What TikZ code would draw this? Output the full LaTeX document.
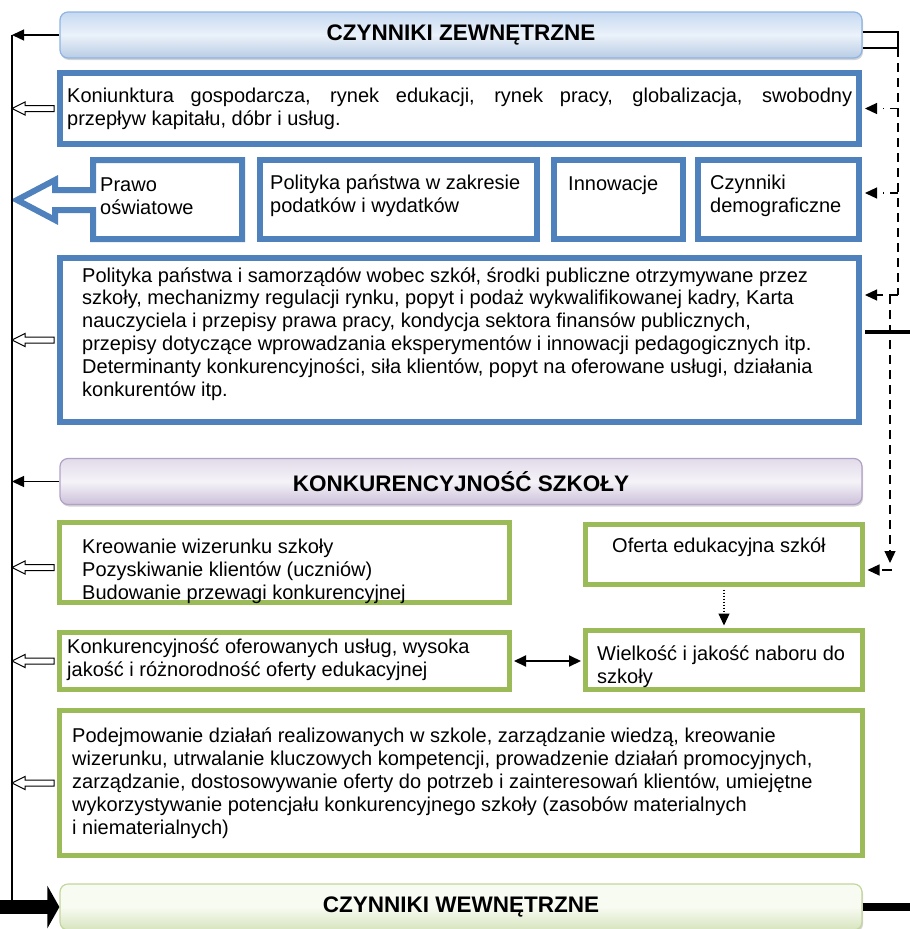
\documentclass[tikz,border=0pt]{standalone}
\usepackage{fontspec}
\setmainfont{Liberation Sans}
\usetikzlibrary{arrows.meta,calc,shadows}
\definecolor{boxblue}{RGB}{79,129,189}
\definecolor{boxgreen}{RGB}{155,187,89}
\definecolor{hzline}{RGB}{141,180,226}
\definecolor{hztop}{RGB}{198,217,241}
\definecolor{hzbot}{RGB}{184,204,228}
\definecolor{hkline}{RGB}{178,161,199}
\definecolor{hktop}{RGB}{226,220,234}
\definecolor{hkbot}{RGB}{204,192,218}
\definecolor{hwline}{RGB}{195,214,155}
\definecolor{hwtop}{RGB}{248,251,242}
\definecolor{hwbot}{RGB}{215,228,189}
\begin{document}
\begin{tikzpicture}[x=1pt,y=-1pt,
    bluebox/.style={draw=boxblue,line width=6pt,fill=white,inner sep=0pt},
    greenbox/.style={draw=boxgreen,line width=5pt,fill=white,inner sep=0pt},
    head/.style={rounded corners=8pt,line width=1.2pt,inner sep=0pt,minimum width=802pt,minimum height=46pt,
        font=\fontsize{22.5}{27}\selectfont\bfseries,
        drop shadow={shadow xshift=1pt,shadow yshift=-2pt,opacity=.35}},
    txt/.style={anchor=west,align=left,inner sep=0pt,font=\fontsize{20}{22.9}\selectfont},
    tip/.style={-{Triangle[length=12pt,width=11pt]}},
    dashdot/.style={line width=1.2pt,dash pattern=on 8pt off 6pt on 1.5pt off 6pt},
    longdash/.style={line width=1.2pt,dash pattern=on 9pt off 6pt},
    hollow/.style={draw=black,fill=white,line width=1pt,
        to path={let \p1=(\tikztostart),\p2=(\tikztotarget) in
            (\x1-3pt,\y1+3pt) -- (\x2+13pt,\y1+3pt) -- (\x2+13pt,\y1+6.5pt) -- (\x2,\y1)
            -- (\x2+13pt,\y1-6.5pt) -- (\x2+13pt,\y1-3pt) -- (\x1-3pt,\y1-3pt) -- cycle}}]
\useasboundingbox (0,0) rectangle (910,929);

\node[head,draw=hzline,top color=hztop,bottom color=hzbot,middle color=hztop!35] (hz) at (461,35) {CZYNNIKI ZEWNĘTRZNE};
\node[head,draw=hkline,top color=hktop,bottom color=hkbot,middle color=hktop!35] (hk) at (461,481.5) {KONKURENCYJNOŚĆ SZKOŁY};
\node[head,draw=hwline,top color=hwtop,bottom color=hwbot,middle color=hwtop] (hw) at (461,907) {CZYNNIKI WEWNĘTRZNE};

\node[bluebox,minimum width=799pt,minimum height=71pt] (konj) at (459.5,108.5) {};
\node[txt] (konjt) at (67,109) {\makebox[785pt][s]{Koniunktura gospodarcza, rynek edukacji, rynek pracy, globalizacja, swobodny}\\przepływ kapitału, dóbr i usług.};

\draw[draw=boxblue,line width=6pt,fill=white] (93,160) -- (242,160) -- (242,239) -- (93,239) -- (93,210)
    -- (55,210) -- (55,220) -- (17,200) -- (55,180) -- (55,190) -- (93,190) -- cycle;
\node[txt] (prawo) at (100,196) {Prawo\\oświatowe};
\node[bluebox,minimum width=277pt,minimum height=79pt] (pod) at (398.5,199.5) {};
\node[txt] (podt) at (270,196) {Polityka państwa w zakresie\\podatków i wydatków};
\node[bluebox,minimum width=129pt,minimum height=79pt] (inn) at (618.5,199.5) {};
\node[txt] (innt) at (568,185) {Innowacje};
\node[bluebox,minimum width=161pt,minimum height=79pt] (dem) at (778.5,199.5) {};
\node[txt] (demt) at (710,196) {Czynniki\\demograficzne};

\node[bluebox,minimum width=799pt,minimum height=164pt] (pol) at (459.5,340) {};
\node[txt] (polt) at (82,334) {Polityka państwa i samorządów wobec szkół, środki publiczne otrzymywane przez\\
    szkoły, mechanizmy regulacji rynku, popyt i podaż wykwalifikowanej kadry, Karta\\
    nauczyciela i przepisy prawa pracy, kondycja sektora finansów publicznych,\\
    przepisy dotyczące wprowadzania eksperymentów i innowacji pedagogicznych itp.\\
    Determinanty konkurencyjności, siła klientów, popyt na oferowane usługi, działania\\
    konkurentów itp.};

\node[greenbox,minimum width=450pt,minimum height=80pt] (kreo) at (284.5,562.5) {};
\node[txt] (kreot) at (82,571) {Kreowanie wizerunku szkoły\\Pozyskiwanie klientów (uczniów)\\Budowanie przewagi konkurencyjnej};
\node[greenbox,minimum width=277pt,minimum height=60pt] (ofer) at (724,554.5) {};
\node[txt] (ofert) at (612,547) {Oferta edukacyjna szkół};
\node[greenbox,minimum width=450pt,minimum height=57pt] (konk) at (284.5,661) {};
\node[txt] (konkt) at (67,660) {Konkurencyjność oferowanych usług, wysoka\\jakość i różnorodność oferty edukacyjnej};
\node[greenbox,minimum width=277pt,minimum height=59pt] (wiel) at (724,660) {};
\node[txt] (wielt) at (597,667) {Wielkość i jakość naboru do\\szkoły};
\node[greenbox,minimum width=803pt,minimum height=145pt] (podj) at (461,783) {};
\node[txt] (podjt) at (72,783) {Podejmowanie działań realizowanych w szkole, zarządzanie wiedzą, kreowanie\\
    wizerunku, utrwalanie kluczowych kompetencji, prowadzenie działań promocyjnych,\\
    zarządzanie, dostosowywanie oferty do potrzeb i zainteresowań klientów, umiejętne\\
    wykorzystywanie potencjału konkurencyjnego szkoły (zasobów materialnych\\
    i niematerialnych)};

\coordinate (sp) at (12,0);
\coordinate (rv) at (898,0);
\coordinate (rw) at (890,0);

\draw[line width=1.3pt] (sp |- hz.west) -- (sp |- 0,900);
\draw[line width=1.3pt,tip] (hz.west) -- (sp |- hz.west);
\draw[line width=1.3pt,tip] (hk.west) -- (sp |- hk.west);
\draw[line width=14pt,-{Triangle[length=12pt,width=42pt]}] (0,907) -- (hw.west);
\draw[hollow] (konj.west) to (sp |- konj.west);
\draw[hollow] (pol.west) to (sp |- pol.west);
\draw[hollow] ([yshift=-5pt]kreo.west) to (sp |- 0,567.5);
\draw[hollow] (konk.west) to (sp |- konk.west);
\draw[hollow] (podj.west) to (sp |- podj.west);

\draw[line width=1.2pt] (hz.east |- 0,32) -- (rv |- 0,32) -- (rv |- 0,48) -- (hz.east |- 0,48);
\draw[longdash] (rv |- 0,48) -- (rv |- 0,295);
\draw[dashdot,tip,shorten >=3pt] (rv |- konj.east) -- (konj.east);
\draw[dashdot,tip,shorten >=3pt] (rv |- 0,193) -- (dem.east |- 0,193);
\draw[longdash,tip,shorten >=3pt] (rv |- 0,295) -- (pol.east |- 0,295);
\draw[longdash,tip] (rw |- 0,295) -- (rw |- 0,563);
\draw[line width=1.2pt,dash pattern=on 10pt off 8pt,tip,shorten >=2.5pt] (892,570) -- (ofer.east |- 0,570);
\draw[line width=4.5pt,shorten <=3pt] (pol.east |- 0,332) -- (910,332);
\draw[line width=8pt] (hw.east) -- (910,907);

\draw[line width=1.2pt,dash pattern=on 1.2pt off 1.8pt,tip,shorten <=2.5pt,shorten >=2.5pt] (ofer.south) -- (wiel.north);
\draw[line width=2pt,{Triangle[length=12pt,width=11pt]}-{Triangle[length=12pt,width=11pt]},shorten <=2pt,shorten >=2pt] (konk.east) -- (konk.east -| wiel.west);
\end{tikzpicture}
\end{document}
